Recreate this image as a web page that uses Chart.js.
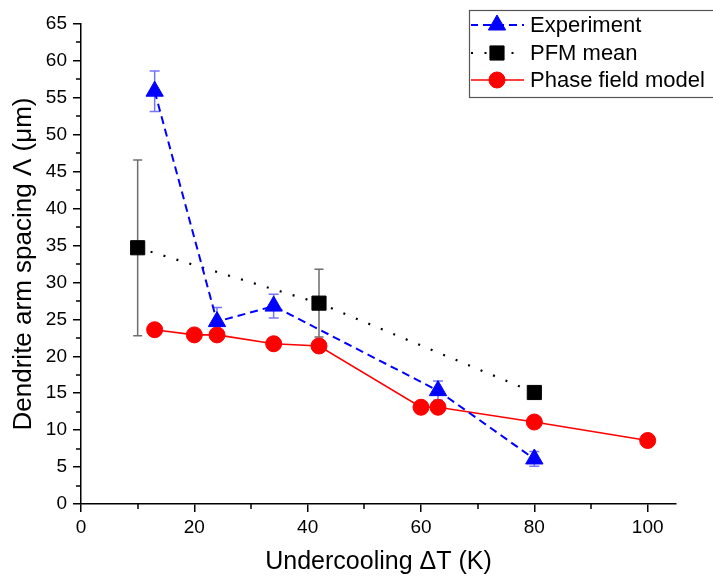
<!DOCTYPE html>
<html><head><meta charset="utf-8">
<script src="https://cdn.jsdelivr.net/npm/chart.js@4.4.0/dist/chart.umd.min.js"></script>
<style>html,body{margin:0;padding:0;background:#fff;} #wrap{width:713px;height:578px;position:relative;}</style>
</head><body><div id="wrap"><canvas id="c" width="713" height="578"></canvas></div>
<script>
// ---- data ----
const expX = [13, 24, 34, 63, 80];
const expY = [55.9, 24.7, 26.8, 15.35, 6.1];
const expErr = [2.75, 1.9, 1.6, 1.3, 1.0];
const pfmX = [10, 42, 80];
const pfmY = [34.7, 27.2, 15.1];
const pfmErr = [11.9, 4.6, 0.5];
const phX = [13, 20, 24, 34, 42, 60, 63, 80, 100];
const phY = [23.6, 22.9, 22.9, 21.7, 21.4, 13.1, 13.1, 11.1, 8.6];
const xMajor = [0, 20, 40, 60, 80, 100];
const xMinor = [10, 30, 50, 70, 90];
const yMajor = [0, 5, 10, 15, 20, 25, 30, 35, 40, 45, 50, 55, 60, 65];
const yMinor = [2.5, 7.5, 12.5, 17.5, 22.5, 27.5, 32.5, 37.5, 42.5, 47.5, 52.5, 57.5, 62.5];
const seriesNames = ['Experiment', 'PFM mean', 'Phase field model'];
const xTitle = 'Undercooling \u0394T (K)';
const yTitle = 'Dendrite arm spacing \u039B (\u03BCm)';

const FONT = "'Liberation Sans', Arial, sans-serif";
const pts = (xs, ys) => xs.map((x, i) => ({x: x, y: ys[i]}));

const errorBars = {
  id: 'errorBars',
  beforeDatasetsDraw(chart) {
    const ctx = chart.ctx, xs = chart.scales.x, ys = chart.scales.y;
    chart.data.datasets.forEach(ds => {
      if (!ds.errors) return;
      ctx.save();
      ctx.strokeStyle = ds.errColor;
      ctx.lineWidth = 1.5;
      ctx.setLineDash([]);
      ds.data.forEach((p, i) => {
        const e = ds.errors[i];
        const px = xs.getPixelForValue(p.x);
        const y1 = ys.getPixelForValue(p.y + e), y2 = ys.getPixelForValue(p.y - e);
        const c = ds.capHalf;
        ctx.beginPath();
        ctx.moveTo(px, y1); ctx.lineTo(px, y2);
        ctx.moveTo(px - c, y1); ctx.lineTo(px + c, y1);
        ctx.moveTo(px - c, y2); ctx.lineTo(px + c, y2);
        ctx.stroke();
      });
      ctx.restore();
    });
  }
};

const minorTicks = {
  id: 'minorTicks',
  afterDraw(chart) {
    const ctx = chart.ctx, xs = chart.scales.x, ys = chart.scales.y;
    const ca = chart.chartArea;
    ctx.save();
    ctx.strokeStyle = '#000';
    ctx.lineWidth = 1.5;
    ctx.beginPath();
    xMinor.forEach(v => { const p = Math.round(xs.getPixelForValue(v)); ctx.moveTo(p, ca.bottom); ctx.lineTo(p, ca.bottom + 5); });
    yMinor.forEach(v => { const p = Math.round(ys.getPixelForValue(v)); ctx.moveTo(ca.left, p); ctx.lineTo(ca.left - 5, p); });
    ctx.stroke();
    ctx.restore();
  }
};

const boxLegend = {
  id: 'boxLegend',
  afterDraw(chart) {
    const ctx = chart.ctx;
    ctx.save();
    ctx.strokeStyle = '#555';
    ctx.lineWidth = 1.2;
    ctx.strokeRect(469.5, 10.5, 260, 87);
    const rows = [25, 53, 80];
    chart.data.datasets.forEach((ds, i) => {
      const y = rows[i];
      ctx.save();
      ctx.strokeStyle = ds.borderColor;
      ctx.lineWidth = ds.borderWidth;
      ctx.setLineDash(ds.borderDash || []);
      ctx.lineDashOffset = ds.legendDashOffset || 0;
      ctx.beginPath();
      ctx.moveTo(471, y); ctx.lineTo(524, y);
      ctx.stroke();
      ctx.restore();
      ctx.save();
      ctx.fillStyle = ds.pointBackgroundColor;
      ctx.strokeStyle = ds.pointBorderColor;
      ctx.lineWidth = 1;
      ctx.setLineDash([]);
      Chart.helpers.drawPoint(ctx, {pointStyle: ds.pointStyle, radius: ds.pointRadius, rotation: 0, borderWidth: 1}, 497, y);
      ctx.restore();
      ctx.fillStyle = '#000';
      ctx.font = '22px ' + FONT;
      ctx.textBaseline = 'middle';
      ctx.textAlign = 'left';
      ctx.fillText(ds.label, 530, y + 1);
    });
    ctx.restore();
  }
};

new Chart(document.getElementById('c'), {
  type: 'scatter',
  data: {
    datasets: [
      {
        label: seriesNames[0], data: pts(expX, expY), showLine: true,
        borderColor: '#0000ff', borderWidth: 2, borderDash: [8, 5], legendDashOffset: 1,
        pointStyle: 'triangle', pointRadius: 10, pointHoverRadius: 10,
        pointBackgroundColor: '#0000ff', pointBorderColor: '#0000ff', pointBorderWidth: 1,
        errors: expErr, errColor: 'rgba(70,70,255,0.75)', capHalf: 5
      },
      {
        label: seriesNames[1], data: pts(pfmX, pfmY), showLine: true,
        borderColor: '#000000', borderWidth: 2.2, borderDash: [2, 11.5], legendDashOffset: 0,
        pointStyle: 'rect', pointRadius: 10, pointHoverRadius: 10,
        pointBackgroundColor: '#000000', pointBorderColor: '#000000', pointBorderWidth: 1,
        errors: pfmErr, errColor: '#6e6e6e', capHalf: 4.5
      },
      {
        label: seriesNames[2], data: pts(phX, phY), showLine: true,
        borderColor: '#ff0000', borderWidth: 1.6,
        pointStyle: 'circle', pointRadius: 8, pointHoverRadius: 8,
        pointBackgroundColor: '#ff0000', pointBorderColor: '#ff0000', pointBorderWidth: 1
      }
    ]
  },
  options: {
    responsive: false,
    animation: false,
    devicePixelRatio: 1,
    layout: {padding: {top: 24, right: 37, left: 0, bottom: 0}},
    plugins: {legend: {display: false}, tooltip: {enabled: false}},
    scales: {
      x: {
        type: 'linear', min: 0, max: 105,
        afterBuildTicks: s => { s.ticks = xMajor.concat(xMinor).sort((a, b) => a - b).map(v => ({value: v})); },
        afterFit: s => { s.height = 74; },
        ticks: {
          autoSkip: false, maxRotation: 0, padding: 4, color: '#000',
          font: {family: FONT, size: 19},
          callback: v => xMajor.includes(v) ? String(v) : ''
        },
        grid: {
          display: true, drawOnChartArea: false, drawTicks: true, tickLength: 8, lineWidth: 1.5,
          tickColor: c => (c.tick && xMajor.includes(c.tick.value)) ? '#000' : 'rgba(0,0,0,0)'
        },
        border: {display: true, color: '#000', width: 1.5},
        title: {display: true, text: xTitle, color: '#000', font: {family: FONT, size: 25}, padding: {top: 0, bottom: 1}}
      },
      y: {
        type: 'linear', min: 0, max: 65,
        afterBuildTicks: s => { s.ticks = yMajor.concat(yMinor).sort((a, b) => a - b).map(v => ({value: v})); },
        afterFit: s => { s.width = 81; },
        ticks: {
          autoSkip: false, padding: 6, color: '#000',
          font: {family: FONT, size: 19},
          callback: v => yMajor.includes(v) ? String(v) : ''
        },
        grid: {
          display: true, drawOnChartArea: false, drawTicks: true, tickLength: 8, lineWidth: 1.5,
          tickColor: c => (c.tick && yMajor.includes(c.tick.value)) ? '#000' : 'rgba(0,0,0,0)'
        },
        border: {display: true, color: '#000', width: 1.5},
        title: {display: true, text: yTitle, color: '#000', font: {family: FONT, size: 26}, padding: {top: 8, bottom: 0}}
      }
    }
  },
  plugins: [errorBars, minorTicks, boxLegend]
});
</script>
</body></html>
